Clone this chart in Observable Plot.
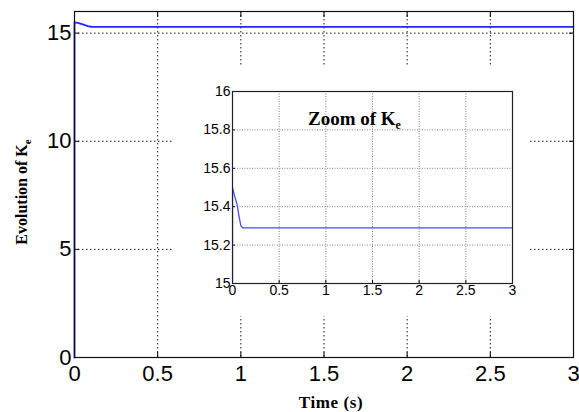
<!DOCTYPE html>
<html>
<head>
<meta charset="utf-8">
<script src="https://cdn.jsdelivr.net/npm/d3@7"></script>
<script src="https://cdn.jsdelivr.net/npm/@observablehq/plot@0.6"></script>
<style>
  html, body { margin: 0; padding: 0; background: #fff; }
  #wrap { position: relative; width: 579px; height: 412px; overflow: hidden; }
  #wrap > svg, #wrap > div { position: absolute; }
</style>
</head>
<body>
<div id="wrap"></div>
<script>
// ---- data ----
const mainTime = [0, 0, 0.02, 0.05, 0.08, 0.1, 0.12, 3];
const mainKe   = [0, 15.5, 15.47, 15.4, 15.32, 15.295, 15.29, 15.29];
const zoomTime = [0, 0, 0.02, 0.05, 0.07, 0.09, 0.11, 3];
const zoomKe   = [0, 15.5, 15.46, 15.41, 15.35, 15.3, 15.29, 15.29];
const mainXTicks = [0, 0.5, 1, 1.5, 2, 2.5, 3];
const mainYTicks = [0, 5, 10, 15];
const zoomXTicks = [0, 0.5, 1, 1.5, 2, 2.5, 3];
const zoomYTicks = [15, 15.2, 15.4, 15.6, 15.8, 16];
const xLabel = "Time (s)";
const yLabel = "Evolution of K";
const zoomTitle = "Zoom of K";
const subscript = "e";

const mainRows = mainTime.map((t, i) => ({t, k: mainKe[i]}));
const zoomRows = zoomTime.map((t, i) => ({t, k: zoomKe[i]}));
const fmt = d3.format("~g");
const sans = "'Liberation Sans', Arial, sans-serif";
const serif = "'Liberation Serif', 'Times New Roman', serif";

const wrap = document.getElementById("wrap");

// ---- main chart ----
const main = Plot.plot({
  width: 579, height: 412,
  marginLeft: 74, marginRight: 6, marginTop: 11, marginBottom: 55,
  style: {fontFamily: sans, fontSize: "22px", color: "#000", background: "#fff"},
  x: {domain: [0, 3]},
  y: {domain: [0, 16]},
  marks: [
    Plot.gridX(mainXTicks, {stroke: "#000", strokeOpacity: 0.9, strokeDasharray: "1.5,2.5"}),
    Plot.gridY(mainYTicks, {stroke: "#000", strokeOpacity: 0.9, strokeDasharray: "1.5,2.5"}),
    Plot.axisX(mainXTicks, {anchor: "bottom", tickSize: -5, tickPadding: 13, tickFormat: fmt, label: null}),
    Plot.axisX(mainXTicks, {anchor: "top", tickSize: -5, tickFormat: () => "", label: null}),
    Plot.axisY(mainYTicks, {anchor: "left", tickSize: -5, tickPadding: 8, tickFormat: fmt, label: null}),
    Plot.axisY(mainYTicks, {anchor: "right", tickSize: -5, tickFormat: () => "", label: null}),
    Plot.line(mainRows, {x: "t", y: "k", stroke: "#2525ff", strokeWidth: 1.8}),
    Plot.frame({stroke: "#111", strokeWidth: 1.2})
  ]
});
main.style.left = "0px"; main.style.top = "0px";
wrap.appendChild(main);

const ms = d3.select(main);
// x label
ms.append("text")
  .attr("x", 331).attr("y", 408)
  .attr("text-anchor", "middle")
  .attr("font-family", serif).attr("font-weight", "bold").attr("font-size", 17)
  .attr("letter-spacing", 0.6)
  .attr("fill", "#000")
  .text(xLabel);
// y label with subscript
const yl = ms.append("text")
  .attr("transform", "translate(27,192) rotate(-90)")
  .attr("text-anchor", "middle")
  .attr("font-family", serif).attr("font-weight", "bold").attr("font-size", 16)
  .attr("fill", "#000");
yl.append("tspan").text(yLabel);
yl.append("tspan").attr("dy", 4).attr("font-size", 11).text(subscript);

// ---- inset ----
const inset = Plot.plot({
  width: 356, height: 249,
  marginLeft: 60, marginRight: 16, marginTop: 24, marginBottom: 33,
  style: {fontFamily: sans, fontSize: "14px", color: "#000", background: "#fff"},
  x: {domain: [0, 3]},
  y: {domain: [15, 16]},
  marks: [
    Plot.gridX(zoomXTicks, {stroke: "#777", strokeOpacity: 0.9, strokeDasharray: "1,1.5"}),
    Plot.gridY(zoomYTicks, {stroke: "#777", strokeOpacity: 0.9, strokeDasharray: "1,1.5"}),
    Plot.axisX(zoomXTicks, {anchor: "bottom", tickSize: -3, tickPadding: 5, tickFormat: fmt, label: null}),
    Plot.axisY(zoomYTicks, {anchor: "left", tickSize: -3, tickPadding: 5, tickFormat: fmt, label: null}),
    Plot.line(zoomRows, {x: "t", y: "k", stroke: "#4a4aff", strokeWidth: 1.3, clip: true}),
    Plot.frame({stroke: "#222", strokeWidth: 1.2})
  ]
});
inset.style.left = "172px"; inset.style.top = "67px";
wrap.appendChild(inset);

const is = d3.select(inset);
const zt = is.append("text")
  .attr("x", 136).attr("y", 58)
  .attr("text-anchor", "start")
  .attr("font-family", serif).attr("font-weight", "bold").attr("font-size", 19)
  .attr("fill", "#000");
zt.append("tspan").text(zoomTitle);
zt.append("tspan").attr("dy", 4).attr("font-size", 12).text(subscript);
</script>
</body>
</html>
